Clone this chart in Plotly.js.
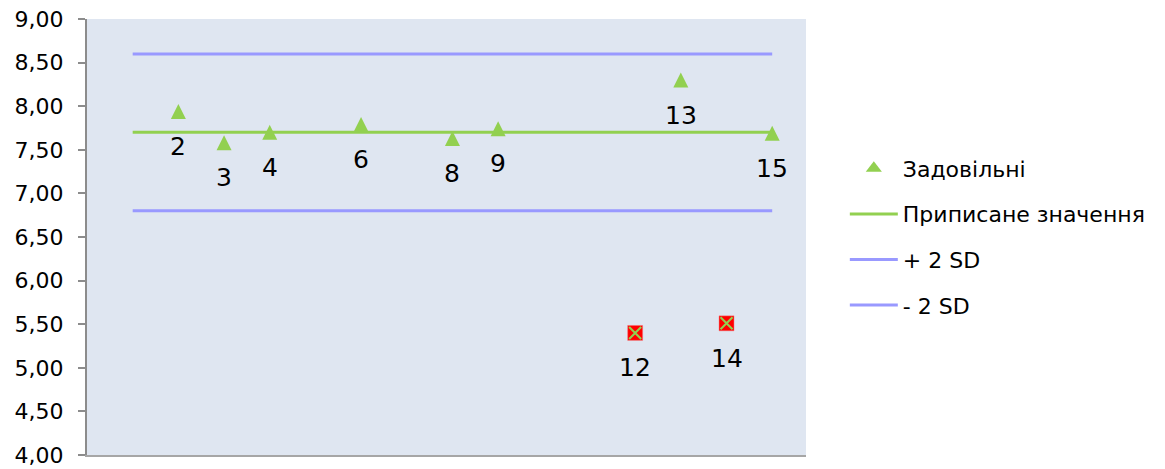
<!DOCTYPE html>
<html>
<head>
<meta charset="utf-8">
<script src="https://cdn.plot.ly/plotly-3.0.1.min.js"></script>
<style>html,body{margin:0;padding:0;background:#fff;}#chart{width:1165px;height:469px;}</style>
</head>
<body>
<div id="chart"></div>
<script>
// Data
const labsOk = [2, 3, 4, 6, 8, 9, 13, 15];
const valsOk = [7.94, 7.58, 7.70, 7.79, 7.63, 7.74, 8.30, 7.69];
const labsBad = [12, 14];
const valsBad = [5.40, 5.51];
const lineX = [1, 15];
const assigned = [7.70, 7.70];
const plus2SD = [8.60, 8.60];
const minus2SD = [6.80, 6.80];
const seriesNames = ["Задовільні", "Приписане значення", "+ 2 SD", "- 2 SD"];

const FONT = "DejaVu Sans, sans-serif";
const green = "#92d050";
const blue = "#9999ff";

const traces = [
  {
    x: labsOk, y: valsOk, name: seriesNames[0], mode: "markers",
    type: "scatter", showlegend: false,
    marker: {symbol: "arrow-down", angle: 180, standoff: 7.5, size: 15, color: green, line: {width: 0}},
    legendgroup: "a", cliponaxis: false
  },
  {
    // legend entry only for the triangle series
    x: [null], y: [null], name: seriesNames[0], mode: "markers", type: "scatter",
    marker: {symbol: "triangle-up", size: 14, color: green, line: {width: 0}},
    legendgroup: "a"
  },
  {
    x: lineX, y: assigned, name: seriesNames[1], mode: "lines", type: "scatter",
    line: {color: green, width: 3}, legendgroup: "b"
  },
  {
    x: lineX, y: plus2SD, name: seriesNames[2], mode: "lines", type: "scatter",
    line: {color: blue, width: 3}, legendgroup: "c"
  },
  {
    x: lineX, y: minus2SD, name: seriesNames[3], mode: "lines", type: "scatter",
    line: {color: blue, width: 3}, legendgroup: "d"
  },
  {
    x: labsBad, y: valsBad, mode: "markers", type: "scatter", showlegend: false,
    marker: {symbol: "square", size: 15, color: "#ff0000", line: {color: "#f08080", width: 0.5}},
    cliponaxis: false
  },
  {
    x: labsBad, y: valsBad, mode: "markers", type: "scatter", showlegend: false,
    marker: {symbol: "x-thin-open", size: 12, color: green, line: {color: green, width: 2}},
    hoverinfo: "skip"
  }
];

const allLabs = labsOk.concat(labsBad);
const allVals = valsOk.concat(valsBad);
const annotations = allLabs.map((lab, i) => ({
  x: lab, y: allVals[i], xref: "x", yref: "y", text: String(lab),
  showarrow: false, xanchor: "center", yanchor: "middle", yshift: -35,
  font: {family: FONT, size: 25, color: "#000"}
}));

const layout = {
  width: 1165, height: 469,
  margin: {l: 87, r: 359, t: 19, b: 14, pad: 0},
  paper_bgcolor: "#ffffff",
  plot_bgcolor: "#dfe6f1",
  separators: ", ",
  font: {family: FONT, color: "#000"},
  showlegend: true,
  annotations: annotations,
  legend: {
    x: 1.054, y: 0.5, xanchor: "left", yanchor: "middle",
    font: {family: FONT, size: 22, color: "#000"},
    traceorder: "grouped", tracegroupgap: 14,
    bgcolor: "rgba(0,0,0,0)", itemwidth: 48
  },
  xaxis: {
    range: [0, 15.74], showgrid: false, zeroline: false,
    showticklabels: false, ticks: "",
    showline: true, linecolor: "#a6a6a6", linewidth: 2, mirror: false
  },
  yaxis: {
    range: [4, 9], dtick: 0.5, tick0: 4, tickformat: ".2f",
    showgrid: false, zeroline: false,
    showline: true, linecolor: "#8c8c8c", linewidth: 2,
    ticks: "outside", ticklen: 7, tickwidth: 2, tickcolor: "#8c8c8c",
    tickfont: {family: FONT, size: 22, color: "#000"},
    ticklabelstandoff: 10
  }
};

Plotly.newPlot("chart", traces, layout, {displayModeBar: false, staticPlot: true});
</script>
</body>
</html>
